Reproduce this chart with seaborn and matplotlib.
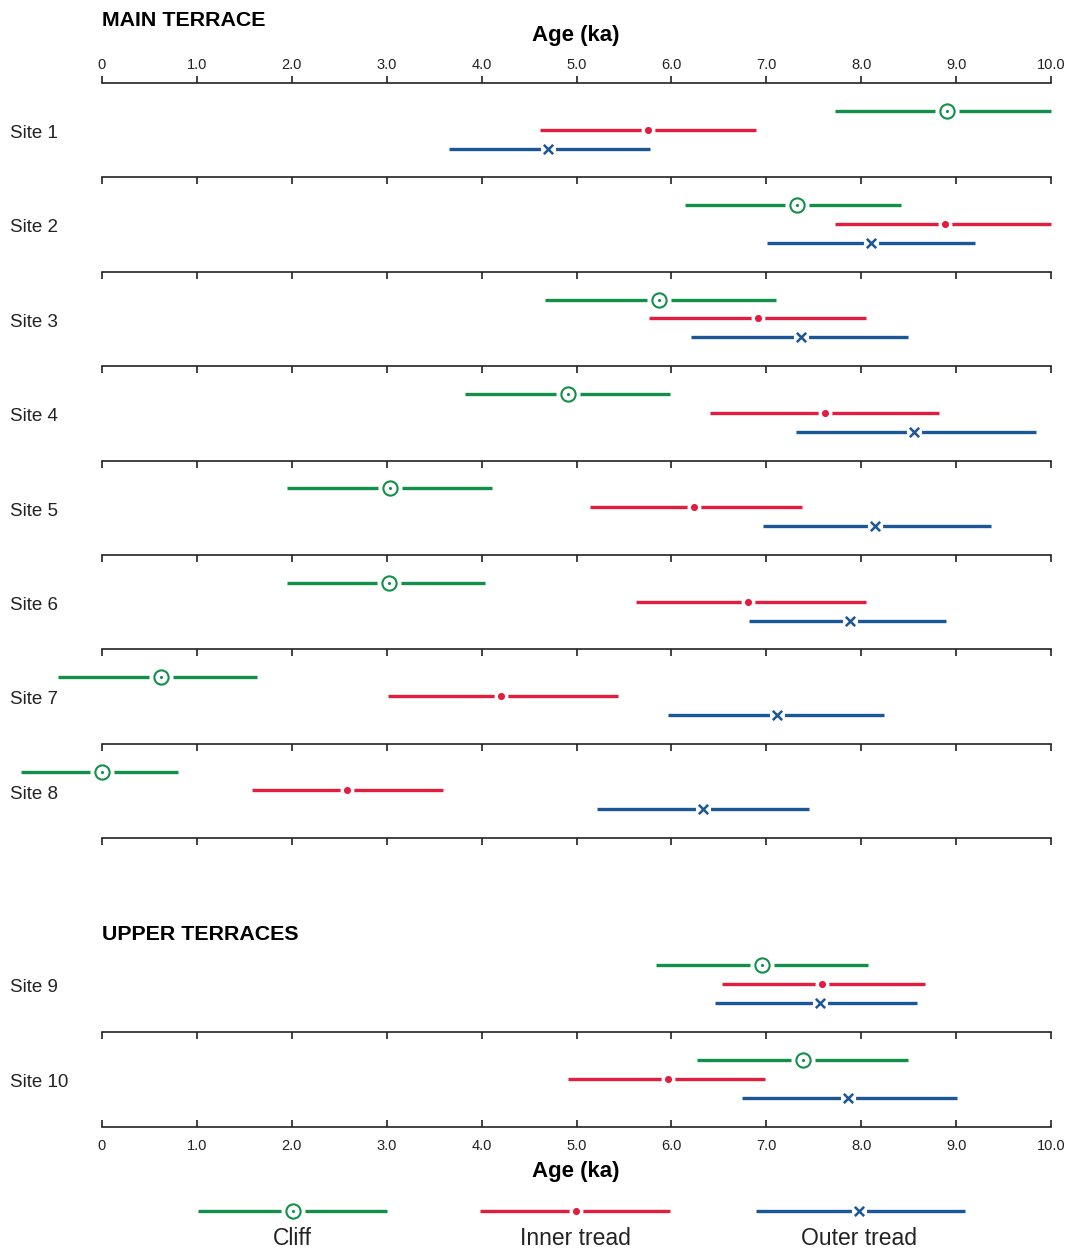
import numpy as np
import pandas as pd
import matplotlib
matplotlib.use("Agg")
import matplotlib.pyplot as plt
import matplotlib.transforms as mtransforms
import seaborn as sns

sns.set_theme(style="white")
plt.rcParams['font.family'] = ['Liberation Sans', 'DejaVu Sans']

# ---- data (ages in ka) ----
sites = ["Site 1", "Site 2", "Site 3", "Site 4", "Site 5",
         "Site 6", "Site 7", "Site 8", "Site 9", "Site 10"]
# Cliff
cliff_mid = [8.90, 7.32, 5.87, 4.91, 3.03, 3.02, 0.62, 0.00, 6.95, 7.39]
cliff_lo = [7.72, 6.14, 4.67, 3.83, 1.95, 1.95, -0.46, -0.85, 5.84, 6.27]
cliff_hi = [10.0, 8.42, 7.10, 5.99, 4.11, 4.04, 1.63, 0.80, 8.07, 8.49]
# Inner tread
inner_mid = [5.75, 8.88, 6.91, 7.62, 6.24, 6.81, 4.20, 2.58, 7.59, 5.96]
inner_lo = [4.62, 7.72, 5.76, 6.41, 5.14, 5.63, 3.01, 1.58, 6.53, 4.91]
inner_hi = [6.89, 10.0, 8.05, 8.82, 7.38, 8.05, 5.44, 3.59, 8.67, 6.99]
# Outer tread
outer_mid = [4.70, 8.10, 7.37, 8.56, 8.15, 7.88, 7.11, 6.33, 7.57, 7.86]
outer_lo = [3.66, 7.01, 6.21, 7.31, 6.97, 6.82, 5.96, 5.22, 6.46, 6.74]
outer_hi = [5.77, 9.20, 8.49, 9.84, 9.37, 8.89, 8.24, 7.45, 8.59, 9.01]

# legend samples
legend_names = ["Cliff", "Inner tread", "Outer tread"]
legend_mid = [2.01, 4.99, 7.98]
legend_lo = [1.01, 3.98, 6.89]
legend_hi = [3.00, 5.99, 9.09]

ticks = np.arange(0, 11)
tick_labels = ["0"] + [f"{t:.1f}" for t in ticks[1:]]

GREEN = "#12904a"
RED = "#e21d40"
BLUE = "#1b5797"
INK = "#222222"

rows = []
for i, s in enumerate(sites):
    rows.append(dict(site=s, kind="Cliff", row=0, mid=cliff_mid[i], lo=cliff_lo[i], hi=cliff_hi[i]))
    rows.append(dict(site=s, kind="Inner tread", row=1, mid=inner_mid[i], lo=inner_lo[i], hi=inner_hi[i]))
    rows.append(dict(site=s, kind="Outer tread", row=2, mid=outer_mid[i], lo=outer_lo[i], hi=outer_hi[i]))
df = pd.DataFrame(rows)

W, H = 1072, 1249
fig = plt.figure(figsize=(W / 100, H / 100), dpi=100)
X0, XW = 102, 949


def band(top, bottom):
    ax = fig.add_axes([X0 / W, 1 - bottom / H, XW / W, (bottom - top) / H])
    ax.set_xlim(0, 10)
    ax.set_facecolor("none")
    for sp in ax.spines.values():
        sp.set_visible(False)
        sp.set_color(INK)
        sp.set_linewidth(1.2)
    ax.set_yticks([])
    ax.set_xticks(ticks)
    ax.set_xticklabels(tick_labels)
    ax.tick_params(axis="x", top=False, bottom=False, labeltop=False, labelbottom=False,
                   length=5, width=1.2, color=INK, labelsize=10.5, labelcolor=INK)
    return ax


styles = {
    "Cliff": dict(color=GREEN, halo=300),
    "Inner tread": dict(color=RED, halo=100),
    "Outer tread": dict(color=BLUE, halo=120),
}


def draw_marks(ax, d):
    for kind, g in d.groupby("kind", sort=False):
        st = styles[kind]
        ax.hlines(g["row"], g["lo"], g["hi"], color=st["color"], lw=2.4,
                  clip_on=False, zorder=2)
        ax.scatter(g["mid"], g["row"], s=st["halo"], color="white", linewidths=0,
                   clip_on=False, zorder=3)
        if kind == "Cliff":
            sns.scatterplot(x=g["mid"], y=g["row"], ax=ax, marker="o", s=105, color=GREEN,
                            facecolor="white", edgecolor=GREEN, linewidth=1.5,
                            clip_on=False, zorder=4, legend=False)
            sns.scatterplot(x=g["mid"], y=g["row"], ax=ax, marker="o", s=5, color=GREEN,
                            linewidth=0, clip_on=False, zorder=5, legend=False)
        elif kind == "Inner tread":
            sns.scatterplot(x=g["mid"], y=g["row"], ax=ax, marker="o", s=26, color=RED,
                            linewidth=0, clip_on=False, zorder=4, legend=False)
        else:
            sns.scatterplot(x=g["mid"], y=g["row"], ax=ax, marker="x", s=45, color=BLUE,
                            linewidth=1.8, clip_on=False, zorder=4, legend=False)
    ax.set_xlabel("")
    ax.set_ylabel("")
    ax.set_ylim(3.53, -1.47)


def site_label(ax, name):
    tr = mtransforms.blended_transform_factory(fig.transFigure, ax.transData)
    ax.text(10 / W, 1.2, name, transform=tr, ha="left", va="center",
            fontsize=13.5, color=INK)


# main terrace bands
tops = [83 + i * 94.4 for i in range(9)]
for i in range(8):
    ax = band(tops[i], tops[i + 1])
    ax.spines["top"].set_visible(True)
    if i == 0:
        ax.tick_params(axis="x", top=True, labeltop=True, direction="out", pad=3)
    else:
        ax.tick_params(axis="x", top=True, direction="in")
    draw_marks(ax, df[df["site"] == sites[i]])
    site_label(ax, sites[i])

# separator under site 8
sep = band(tops[8], tops[8] + 20)
sep.spines["top"].set_visible(True)
sep.tick_params(axis="x", top=True, direction="in")

# upper terraces
up_tops = [937, 1032, 1127]
for j in range(2):
    ax = band(up_tops[j], up_tops[j + 1])
    if j == 1:
        ax.spines["top"].set_visible(True)
        ax.spines["bottom"].set_visible(True)
        ax.tick_params(axis="x", top=True, bottom=True, labelbottom=True,
                       direction="in", pad=9)
    draw_marks(ax, df[df["site"] == sites[8 + j]])
    site_label(ax, sites[8 + j])

# legend
lg = band(1197, 1225)
leg_df = pd.DataFrame(dict(site="legend", kind=legend_names, row=0,
                           mid=legend_mid, lo=legend_lo, hi=legend_hi))
draw_marks(lg, leg_df)
lg.set_ylim(1, -1)
for name, m in zip(legend_names, legend_mid):
    lg.annotate(name, xy=(m, 0), xytext=(0, -19.5), textcoords="offset points",
                ha="center", va="center", fontsize=16.5, color=INK)

# titles
fig.text(X0 / W, 1 - 21 / H, "MAIN TERRACE", fontsize=15.4, fontweight="bold",
         ha="left", va="center", color="black")
fig.text(576 / W, 1 - 35 / H, "Age (ka)", fontsize=16, fontweight="bold",
         ha="center", va="center", color="black")
fig.text(X0 / W, 1 - 935 / H, "UPPER TERRACES", fontsize=15.4, fontweight="bold",
         ha="left", va="center", color="black")
fig.text(576 / W, 1 - 1172 / H, "Age (ka)", fontsize=16, fontweight="bold",
         ha="center", va="center", color="black")

fig.savefig("out.png", dpi=100, facecolor="white")
